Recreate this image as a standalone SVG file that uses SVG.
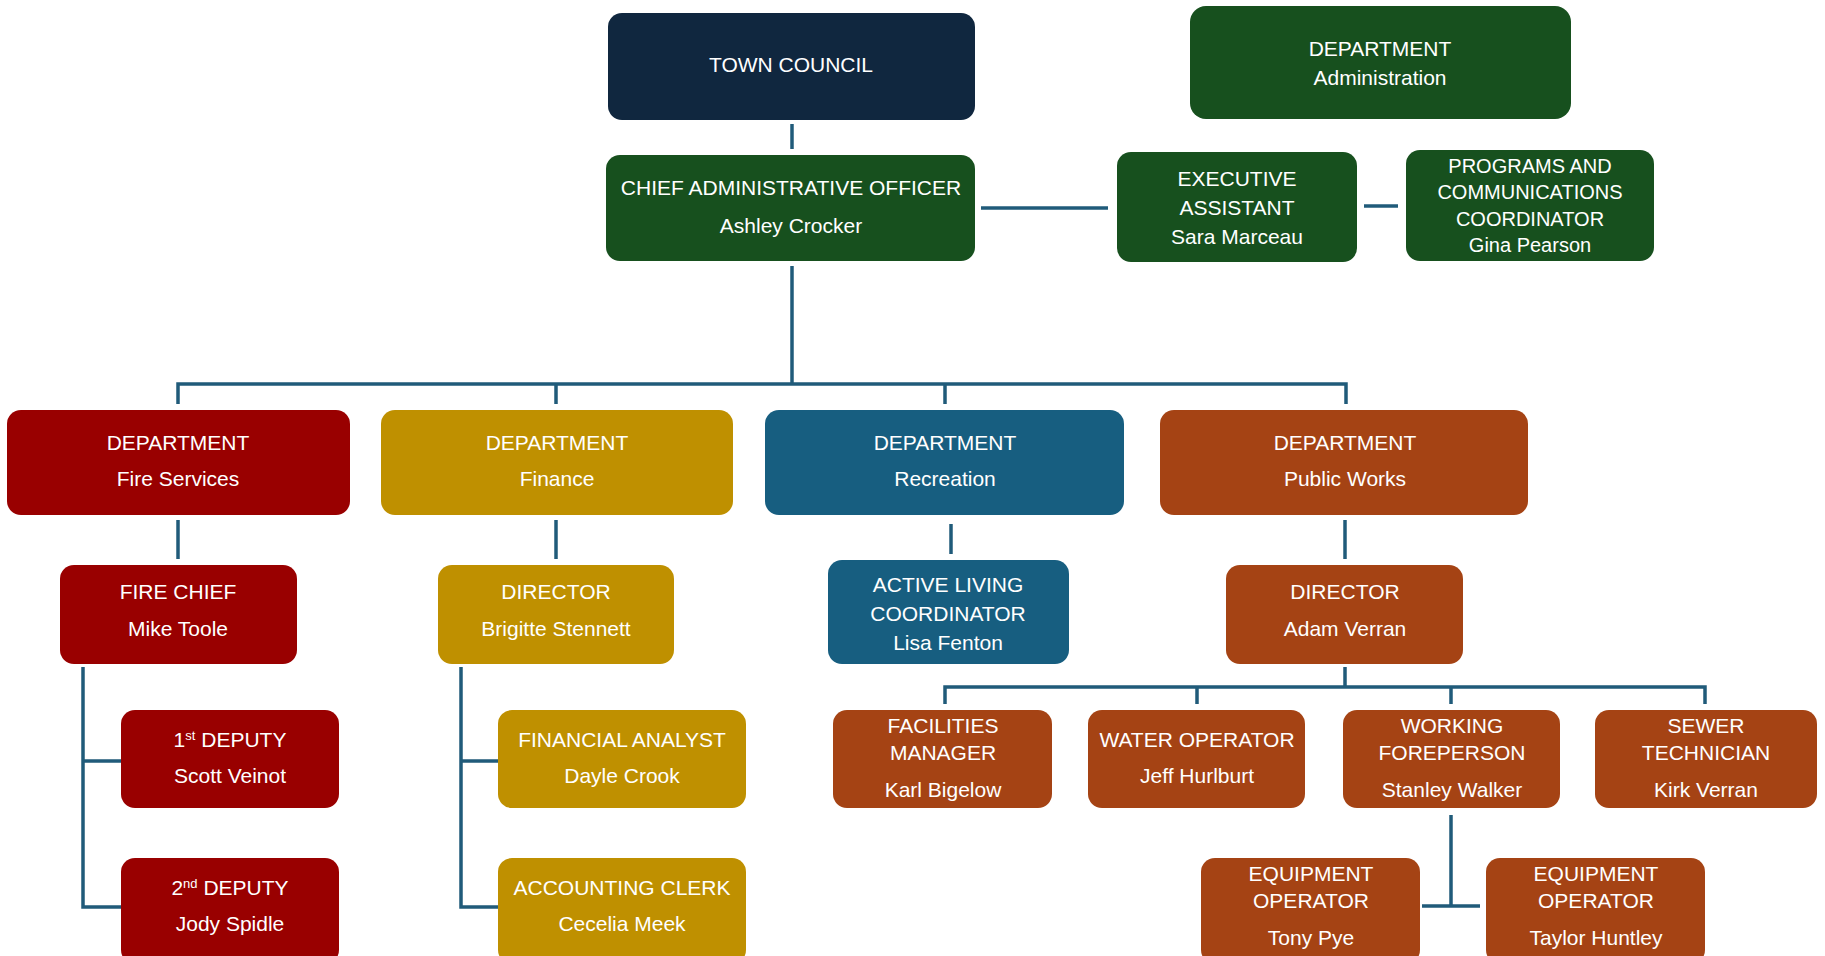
<svg xmlns="http://www.w3.org/2000/svg" width="1825" height="956" viewBox="0 0 1825 956">
<style>
text{font-family:"Liberation Sans",Arial,sans-serif;font-size:21px;fill:#ffffff;text-anchor:middle}
.s{font-size:20px}
.navy{fill:#10273F}.green{fill:#17501E}.red{fill:#990000}.gold{fill:#BF9000}.blue{fill:#175E80}.orange{fill:#A54314}
.c{fill:none;stroke:#205B7A;stroke-width:3.5}
sup{font-size:13px}
</style>
<rect width="1825" height="956" fill="#ffffff"/>
<g id="connectors">
<path class="c" d="M792 124V149"/>
<path class="c" d="M792 266V384"/>
<path class="c" d="M178 404V384H1346V404M556 384V404M945 384V404"/>
<path class="c" d="M981 208H1108"/>
<path class="c" d="M1364 206H1398"/>
<path class="c" d="M178 520V559"/>
<path class="c" d="M556 520V559"/>
<path class="c" d="M951 524V554"/>
<path class="c" d="M1345 520V559"/>
<path class="c" d="M83 667V907H121M83 761H121"/>
<path class="c" d="M461 667V907H498M461 761H498"/>
<path class="c" d="M1345 667V687M945 704V687H1705V704M1197 687V704M1451 687V704"/>
<path class="c" d="M1451 815V906M1422 906H1480"/>
</g>
<g id="town-council"><rect class="navy" x="608" y="13" width="367" height="107" rx="14"/><text x="791" y="72">TOWN COUNCIL</text></g>
<g id="cao"><rect class="green" x="606" y="155" width="369" height="106" rx="14"/><text x="791" y="195">CHIEF ADMINISTRATIVE OFFICER</text><text x="791" y="233">Ashley Crocker</text></g>
<g id="dept-admin"><rect class="green" x="1190" y="6" width="381" height="113" rx="16"/><text x="1380" y="56">DEPARTMENT</text><text x="1380" y="85">Administration</text></g>
<g id="exec-assistant"><rect class="green" x="1117" y="152" width="240" height="110" rx="14"/><text x="1237" y="186">EXECUTIVE</text><text x="1237" y="215">ASSISTANT</text><text x="1237" y="244">Sara Marceau</text></g>
<g id="programs"><rect class="green" x="1406" y="150" width="248" height="111" rx="14"/><text class="s" x="1530" y="173">PROGRAMS AND</text><text class="s" x="1530" y="199">COMMUNICATIONS</text><text class="s" x="1530" y="226">COORDINATOR</text><text class="s" x="1530" y="252">Gina Pearson</text></g>
<g id="dept-fire"><rect class="red" x="7" y="410" width="343" height="105" rx="14"/><text x="178" y="450">DEPARTMENT</text><text x="178" y="486">Fire Services</text></g>
<g id="dept-finance"><rect class="gold" x="381" y="410" width="352" height="105" rx="14"/><text x="557" y="450">DEPARTMENT</text><text x="557" y="486">Finance</text></g>
<g id="dept-recreation"><rect class="blue" x="765" y="410" width="359" height="105" rx="14"/><text x="945" y="450">DEPARTMENT</text><text x="945" y="486">Recreation</text></g>
<g id="dept-publicworks"><rect class="orange" x="1160" y="410" width="368" height="105" rx="14"/><text x="1345" y="450">DEPARTMENT</text><text x="1345" y="486">Public Works</text></g>
<g id="fire-chief"><rect class="red" x="60" y="565" width="237" height="99" rx="14"/><text x="178" y="599">FIRE CHIEF</text><text x="178" y="636">Mike Toole</text></g>
<g id="finance-director"><rect class="gold" x="438" y="565" width="236" height="99" rx="14"/><text x="556" y="599">DIRECTOR</text><text x="556" y="636">Brigitte Stennett</text></g>
<g id="active-living"><rect class="blue" x="828" y="560" width="241" height="104" rx="14"/><text x="948" y="592">ACTIVE LIVING</text><text x="948" y="621">COORDINATOR</text><text x="948" y="650">Lisa Fenton</text></g>
<g id="pw-director"><rect class="orange" x="1226" y="565" width="237" height="99" rx="14"/><text x="1345" y="599">DIRECTOR</text><text x="1345" y="636">Adam Verran</text></g>
<g id="deputy1"><rect class="red" x="121" y="710" width="218" height="98" rx="14"/><text x="230" y="747">1<tspan font-size="13" dy="-7">st</tspan><tspan dy="7"> DEPUTY</tspan></text><text x="230" y="783">Scott Veinot</text></g>
<g id="deputy2"><rect class="red" x="121" y="858" width="218" height="106" rx="14"/><text x="230" y="895">2<tspan font-size="13" dy="-7">nd</tspan><tspan dy="7"> DEPUTY</tspan></text><text x="230" y="931">Jody Spidle</text></g>
<g id="financial-analyst"><rect class="gold" x="498" y="710" width="248" height="98" rx="14"/><text x="622" y="747">FINANCIAL ANALYST</text><text x="622" y="783">Dayle Crook</text></g>
<g id="accounting-clerk"><rect class="gold" x="498" y="858" width="248" height="106" rx="14"/><text x="622" y="895">ACCOUNTING CLERK</text><text x="622" y="931">Cecelia Meek</text></g>
<g id="facilities"><rect class="orange" x="833" y="710" width="219" height="98" rx="14"/><text x="943" y="733">FACILITIES</text><text x="943" y="760">MANAGER</text><text x="943" y="797">Karl Bigelow</text></g>
<g id="water"><rect class="orange" x="1088" y="710" width="217" height="98" rx="14"/><text x="1197" y="747">WATER OPERATOR</text><text x="1197" y="783">Jeff Hurlburt</text></g>
<g id="foreperson"><rect class="orange" x="1343" y="710" width="217" height="98" rx="14"/><text x="1452" y="733">WORKING</text><text x="1452" y="760">FOREPERSON</text><text x="1452" y="797">Stanley Walker</text></g>
<g id="sewer"><rect class="orange" x="1595" y="710" width="222" height="98" rx="14"/><text x="1706" y="733">SEWER</text><text x="1706" y="760">TECHNICIAN</text><text x="1706" y="797">Kirk Verran</text></g>
<g id="equip1"><rect class="orange" x="1201" y="858" width="219" height="106" rx="14"/><text x="1311" y="881">EQUIPMENT</text><text x="1311" y="908">OPERATOR</text><text x="1311" y="945">Tony Pye</text></g>
<g id="equip2"><rect class="orange" x="1486" y="858" width="219" height="106" rx="14"/><text x="1596" y="881">EQUIPMENT</text><text x="1596" y="908">OPERATOR</text><text x="1596" y="945">Taylor Huntley</text></g>
</svg>
